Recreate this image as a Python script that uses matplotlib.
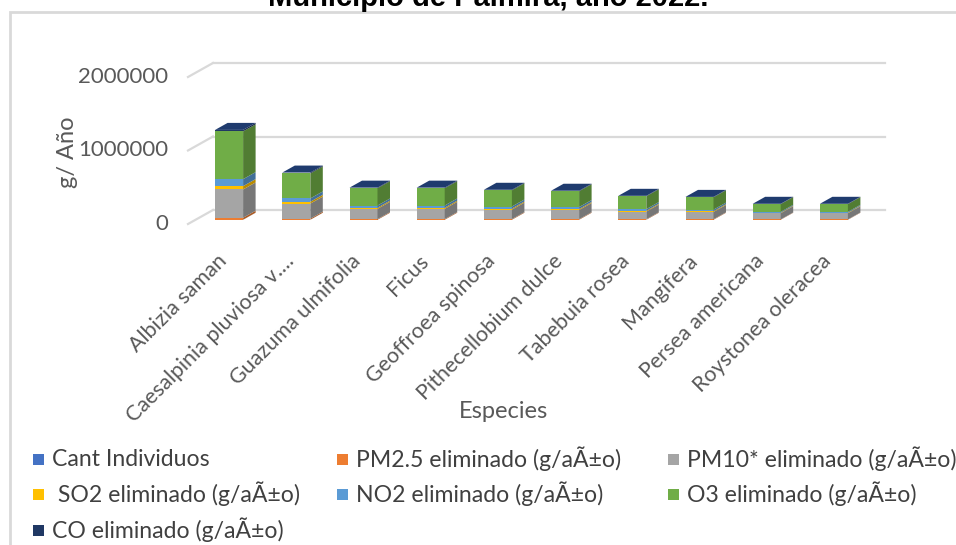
import matplotlib
matplotlib.use("Agg")
import matplotlib.pyplot as plt
from matplotlib.patches import Polygon, Rectangle
import matplotlib.transforms as mtransforms
import numpy as np

species = ["Albizia saman", "Caesalpinia pluviosa v....", "Guazuma ulmifolia", "Ficus",
           "Geoffroea spinosa", "Pithecellobium dulce", "Tabebuia rosea", "Mangifera",
           "Persea americana", "Roystonea oleracea"]
cant = [1126, 589, 384, 370, 356, 334, 290, 262, 185, 180]
pm25 = [27000, 15000, 9000, 9000, 8500, 8000, 7000, 6500, 4500, 4500]
pm10 = [385000, 205000, 140000, 140000, 130000, 125000, 105000, 100000, 85000, 85000]
so2 = [45000, 25000, 15000, 15000, 14000, 13000, 11000, 10500, 7000, 7000]
no2 = [95000, 45000, 30000, 30000, 28000, 27000, 22000, 21000, 12000, 12000]
o3 = [650000, 340000, 235000, 235000, 220000, 215000, 175000, 168000, 105000, 105000]
co = [20000, 12000, 8000, 8000, 7500, 7000, 6000, 5500, 4000, 4000]

series_names = ["Cant Individuos", "PM2.5 eliminado (g/aÃ±o)", "PM10* eliminado (g/aÃ±o)",
                " SO2 eliminado (g/aÃ±o)", "NO2 eliminado (g/aÃ±o)", "O3 eliminado (g/aÃ±o)",
                "CO eliminado (g/aÃ±o)"]
series = [cant, pm25, pm10, so2, no2, o3, co]
colors = ["#4472C4", "#ED7D31", "#A5A5A5", "#FFC000", "#5B9BD5", "#70AD47", "#203864"]
yticks = [0, 1000000, 2000000]
ytick_labels = ["0", "1000000", "2000000"]

W, H = 956, 545
fig = plt.figure(figsize=(W / 100, H / 100), dpi=100)
FONT = "Lato"
TXT = "#595959"

# chart border
fig.patches.append(Rectangle((10 / W, -0.1), 1.2, 1 - 12 / H + 0.1, transform=fig.transFigure,
                             fill=False, edgecolor="#d9d9d9", linewidth=2.0))

# front plane of the plot
x0, x1 = 188, 860
y0, y1 = 224, 77
ax = fig.add_axes([x0 / W, 1 - y0 / H, (x1 - x0) / W, (y0 - y1) / H])
ax.set_xlim(-0.5, 9.5)
ax.set_ylim(0, 2000000)
ax.axis("off")

px_x = 10 / (x1 - x0)          # data units per pixel in x
px_y = 2000000 / (y0 - y1)     # data units per pixel in y
dx = 25 * px_x                 # depth offset (back wall)
dy = 14 * px_y

# gridlines: diagonal from front + back wall lines
for v in yticks:
    ax.plot([-0.5, -0.5 + dx], [v, v + dy], color="#d9d9d9", lw=1.6, clip_on=False, zorder=1)
    ax.plot([-0.5 + dx, 9.5 + dx], [v + dy, v + dy], color="#d9d9d9", lw=1.6, clip_on=False, zorder=1)

# y tick labels
for v, lab in zip(yticks, ytick_labels):
    ax.text(-0.5 - 20 * px_x, v, lab, ha="right", va="center", fontsize=16,
            color=TXT, family=FONT)


def darker(c, f):
    r, g, b = matplotlib.colors.to_rgb(c)
    return (r * f, g * f, b * f)


f0, f1 = 0.30, 0.80
bw = 28 * px_x
xs = np.arange(len(species))
bottoms = np.zeros(len(species))
for vals, col in zip(series, colors):
    vals = np.array(vals, dtype=float)
    xc = xs + f0 * dx
    ax.bar(xc, vals, bottom=bottoms + f0 * dy, width=bw, color=col, zorder=3, linewidth=0)
    ddx = (f1 - f0) * dx
    ddy = (f1 - f0) * dy
    for i in range(len(species)):
        xr = xc[i] + bw / 2
        b = bottoms[i] + f0 * dy
        t = b + vals[i]
        ax.add_patch(Polygon([[xr, b], [xr + ddx, b + ddy], [xr + ddx, t + ddy], [xr, t]],
                             closed=True, facecolor=darker(col, 0.72), edgecolor="none",
                             zorder=3, clip_on=False))
    bottoms = bottoms + vals

# top faces
for i in range(len(species)):
    xl = xs[i] + f0 * dx - bw / 2
    xr = xl + bw
    t = bottoms[i] + f0 * dy
    ddx = (f1 - f0) * dx
    ddy = (f1 - f0) * dy
    ax.add_patch(Polygon([[xl, t], [xl + ddx, t + ddy], [xr + ddx, t + ddy], [xr, t]],
                         closed=True, facecolor="#1F3B6E", edgecolor="none",
                         zorder=4, clip_on=False))

# x tick labels
off = mtransforms.offset_copy(ax.transData, fig=fig, x=2, y=-34, units="dots")
for i, lab in enumerate(species):
    ax.text(xs[i], 0, lab, transform=off, rotation=45, ha="right", va="center",
            rotation_mode="anchor", fontsize=15.5, color=TXT, family=FONT)

# axis titles
fig.text(68 / W, 1 - 152 / H, "g/ Año", rotation=90, ha="center", va="center",
         fontsize=17, color=TXT, family=FONT)
fig.text(503 / W, 1 - 411 / H, "Especies", ha="center", va="center",
         fontsize=17, color=TXT, family=FONT)

# title (cut off at top)
fig.text(488 / W, 1 - 6 / H, "Municipio de Palmira, año 2022.", ha="center", va="baseline",
         fontsize=21, fontweight="bold", color="black", family="Liberation Sans")

# legend (row-wise like Excel)
leg_cols = [33, 337, 668]
leg_rows = [459, 494, 530]
for k, (name, col) in enumerate(zip(series_names, colors)):
    r, c = divmod(k, 3)
    xp, yp = leg_cols[c], leg_rows[r]
    fig.patches.append(Rectangle((xp / W, 1 - (yp + 6) / H), 11 / W, 11 / H,
                                 transform=fig.transFigure, facecolor=col, edgecolor="none"))
    fig.text((xp + 19) / W, 1 - yp / H, name, ha="left", va="center", fontsize=16.6,
             color="#404040", family=FONT)

fig.savefig("out.png", dpi=100)
